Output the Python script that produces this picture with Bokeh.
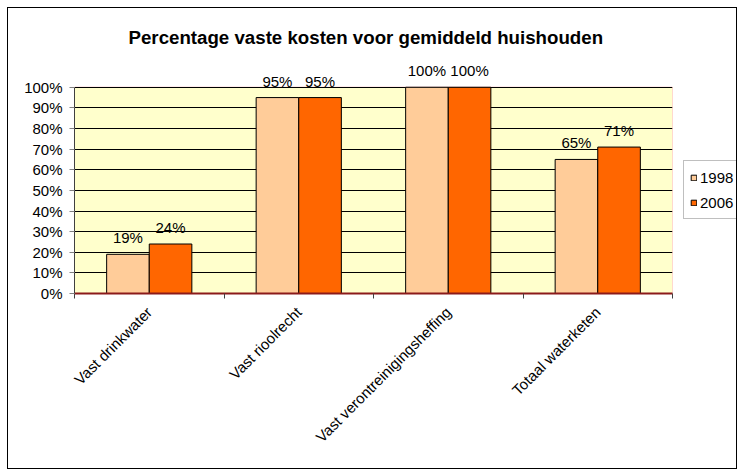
import math
import numpy as np
from bokeh.plotting import figure
from bokeh.layouts import row
from bokeh.models import (ColumnDataSource, Range1d, FixedTicker, PrintfTickFormatter,
                          Legend, LegendItem, LabelSet, BoxAnnotation)
from bokeh.transform import dodge
from bokeh.core.properties import value
from bokeh.embed import file_html
from bokeh.resources import INLINE

categories = ["Vast drinkwater", "Vast rioolrecht", "Vast verontreinigingsheffing", "Totaal waterketen"]
years = ["1998", "2006"]
values_1998 = [19, 95, 100, 65]
values_2006 = [24, 95, 100, 71]
y_ticks = [0, 10, 20, 30, 40, 50, 60, 70, 80, 90, 100]
colors = ["#FFCC99", "#FF6600"]

FONT = "Liberation Sans"
TOP_B, BOT_B = 54, 175

centers = list(np.arange(len(categories)) + 0.5)
src = ColumnDataSource(dict(
    x=centers,
    v1998=values_1998,
    v2006=values_2006,
    l1998=[f"{v}%" for v in values_1998],
    l2006=[f"{v}%" for v in values_2006],
))

p = figure(width=667, height=460, x_range=Range1d(0, len(categories)), y_range=Range1d(0, 112),
           output_backend="svg", toolbar_location=None,
           min_border_left=66, min_border_right=3, min_border_top=TOP_B, min_border_bottom=BOT_B)
p.background_fill_color = "white"
p.border_fill_color = "white"
p.outline_line_color = None

# plot area (0..100%) with yellow fill and red border
area = BoxAnnotation(left=0, right=len(categories), bottom=y_ticks[0], top=y_ticks[-1],
                     fill_color="#FFFFCC", fill_alpha=1, line_color="red", line_width=1,
                     level="image")
p.add_layout(area)

p.title.text = "Percentage vaste kosten voor gemiddeld huishouden"
p.title.align = "left"
p.title.offset = 54
p.title.text_font = FONT
p.title.text_font_size = "18.7px"
p.title.text_font_style = "bold"
p.title.text_color = "black"
p.title.standoff = 30

bw = 0.285
r1 = p.vbar(x=dodge("x", -bw / 2, range=p.x_range), top="v1998", width=bw, source=src,
            fill_color=colors[0], line_color="black", line_width=1)
r2 = p.vbar(x=dodge("x", bw / 2, range=p.x_range), top="v2006", width=bw, source=src,
            fill_color=colors[1], line_color="black", line_width=1)

for col, off in (("l1998", -bw / 2), ("l2006", bw / 2)):
    labels = LabelSet(x=dodge("x", off, range=p.x_range), y=col.replace("l", "v"), text=col,
                      source=src, text_align="center", text_baseline="alphabetic", y_offset=11,
                      text_font=value(FONT), text_font_size=value("15px"), text_color="black")
    p.add_layout(labels)

# y axis
p.yaxis.ticker = FixedTicker(ticks=y_ticks)
p.yaxis.formatter = PrintfTickFormatter(format="%d%%")
p.yaxis.bounds = (y_ticks[0], y_ticks[-1])
p.yaxis.major_tick_out = 5
p.yaxis.major_tick_in = 0
p.yaxis.minor_tick_line_color = None
p.yaxis.axis_line_color = "#404040"
p.yaxis.major_tick_line_color = "#808080"
p.yaxis.major_label_standoff = 7
p.yaxis.major_label_text_font = FONT
p.yaxis.major_label_text_font_size = "15px"
p.yaxis.major_label_text_color = "black"

# x axis
p.xaxis.ticker = FixedTicker(ticks=centers, minor_ticks=list(range(len(categories) + 1)))
p.xaxis.major_label_overrides = {float(c): name for c, name in zip(centers, categories)}
p.xaxis.major_tick_line_color = None
p.xaxis.minor_tick_out = 5
p.xaxis.minor_tick_in = 0
p.xaxis.minor_tick_line_color = "#404040"
p.xaxis.axis_line_color = "#8B1A1A"
p.xaxis.axis_line_width = 2
p.xaxis.major_label_orientation = math.pi / 4
p.xaxis.major_label_standoff = 10
p.xaxis.major_label_text_font = FONT
p.xaxis.major_label_text_font_size = "15px"
p.xaxis.major_label_text_color = "black"

p.ygrid.ticker = FixedTicker(ticks=y_ticks)
p.ygrid.grid_line_color = "black"
p.ygrid.grid_line_width = 1
p.xgrid.visible = False

# legend panel (narrow figure to the right of the plot area); its renderers
# reuse the chart data but stay hidden, only their legend swatches are shown
q = figure(width=61, height=460, output_backend="svg", toolbar_location=None,
           x_axis_type=None, y_axis_type=None,
           min_border_left=0, min_border_right=0, min_border_top=TOP_B, min_border_bottom=BOT_B,
           x_range=Range1d(0, 1), y_range=Range1d(0, 1))
q.outline_line_color = None
q.background_fill_color = "white"
q.border_fill_color = "white"
q.grid.visible = False
d1 = q.vbar(x="x", top="v1998", width=bw, source=src, fill_color=colors[0], line_color="black",
            visible=False)
d2 = q.vbar(x="x", top="v2006", width=bw, source=src, fill_color=colors[1], line_color="black",
            visible=False)

legend = Legend(items=[LegendItem(label=years[0], renderers=[d1]),
                       LegendItem(label=years[1], renderers=[d2])],
                location=(8, 74), orientation="vertical")
legend.glyph_width = 7
legend.glyph_height = 7
legend.label_standoff = 3
legend.padding = 6
legend.margin = 0
legend.spacing = 5
legend.label_height = 20
legend.label_text_font = FONT
legend.label_text_font_size = "15px"
legend.label_text_color = "black"
legend.border_line_color = "#808080"
legend.border_line_width = 1
legend.background_fill_color = "white"
legend.background_fill_alpha = 1
legend.inactive_fill_alpha = 0
legend.click_policy = "none"
q.add_layout(legend, "center")

layout = row(p, q, spacing=0, styles={"border": "1px solid black", "margin": "7px 0 0 7px"})

open("out.html", "w").write(file_html(layout, INLINE))
